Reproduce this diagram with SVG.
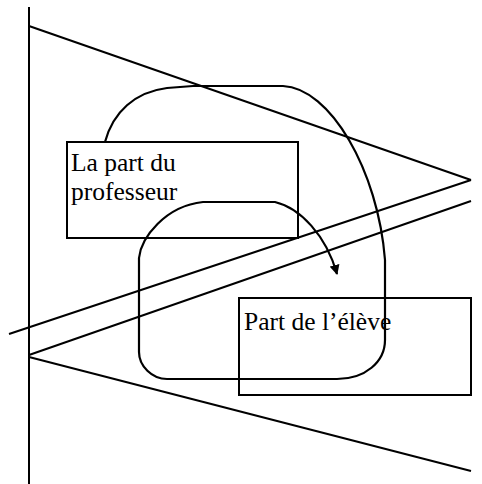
<svg xmlns="http://www.w3.org/2000/svg" width="482" height="484" viewBox="0 0 482 484">
  <style>
    .ln { stroke: #000; stroke-width: 2; fill: none; stroke-linecap: butt; }
    .box { stroke: #000; stroke-width: 2; fill: none; }
    .lbl { font-family: "Liberation Serif", "Times New Roman", serif; font-size: 25.5px; fill: #000; }
    .loop { stroke: #000; stroke-width: 2.2; fill: none; stroke-linejoin: round; }
  </style>
  <defs>
    <marker id="arrow" viewBox="0 0 10 10" refX="9" refY="5" markerWidth="10" markerHeight="10" markerUnits="userSpaceOnUse" orient="auto">
      <path d="M0,0 L10,5 L0,10 Z" fill="#000"/>
    </marker>
  </defs>
  <rect width="482" height="484" fill="#fff"/>

  <g id="frame">
    <line class="ln" x1="29" y1="7" x2="29" y2="484"/>
    <line class="ln" x1="29" y1="26" x2="471" y2="180"/>
    <line class="ln" x1="471" y1="180" x2="9" y2="334"/>
    <line class="ln" x1="29" y1="355" x2="471" y2="201"/>
    <line class="ln" x1="29" y1="357" x2="471" y2="471"/>
  </g>

  <g id="connectors">
    <path class="loop" marker-end="url(#arrow)" d="M105,142 C113,112 135,92 167,88 L193,86 L283,86 C330,88 378,170 385,260 L385,340 C385,362 365,379 337,379 L167,379 C152,379 139,366 139,352 L139,258 C141,238 165,206 203,202 L275,202 C300,208 326,235 337,274"/>
  </g>

  <g id="node-professeur">
    <rect class="box" x="67" y="142" width="231" height="96"/>
    <text class="lbl" x="71" y="171">La part du</text>
    <text class="lbl" x="71" y="200">professeur</text>
  </g>

  <g id="node-eleve">
    <rect class="box" x="239" y="298" width="232" height="97"/>
    <text class="lbl" x="244" y="330">Part de l’élève</text>
  </g>
</svg>
